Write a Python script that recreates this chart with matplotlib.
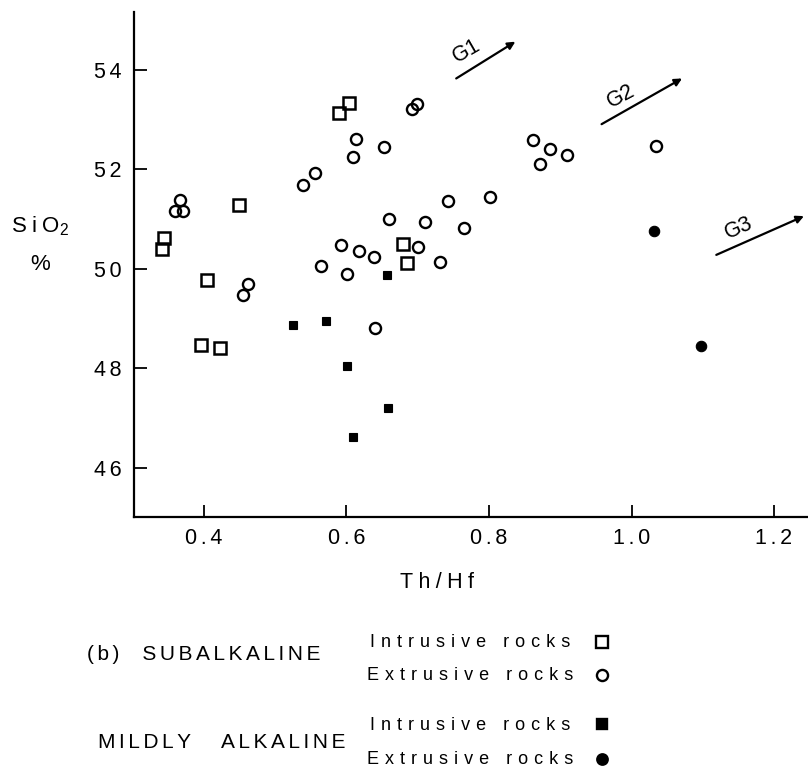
import matplotlib
matplotlib.use("Agg")
import matplotlib.pyplot as plt

plt.rcParams['font.family'] = ['Liberation Sans', 'DejaVu Sans']
plt.rcParams['mathtext.fontset'] = 'custom'
plt.rcParams['mathtext.rm'] = 'Liberation Sans'

# ---- data: Th/Hf ratio vs SiO2 (%) ----
# Subalkaline, intrusive rocks (open squares)
sub_intr_thhf = [0.603, 0.589, 0.449, 0.344, 0.341, 0.404, 0.396, 0.422, 0.679, 0.685]
sub_intr_sio2 = [53.34, 53.14, 51.28, 50.61, 50.39, 49.77, 48.47, 48.41, 50.50, 50.12]

# Subalkaline, extrusive rocks (open circles)
sub_extr_thhf = [0.366, 0.359, 0.371, 0.462, 0.455, 0.539, 0.556, 0.614, 0.609, 0.653,
                 0.659, 0.593, 0.617, 0.639, 0.564, 0.601, 0.640, 0.692, 0.699, 0.862,
                 0.886, 0.909, 0.872, 1.034, 0.742, 0.801, 0.710, 0.765, 0.700, 0.731]
sub_extr_sio2 = [51.38, 51.17, 51.16, 49.69, 49.47, 51.69, 51.93, 52.61, 52.24, 52.46,
                 51.01, 50.48, 50.36, 50.24, 50.06, 49.90, 48.80, 53.21, 53.32, 52.59,
                 52.42, 52.29, 52.10, 52.47, 51.36, 51.45, 50.95, 50.83, 50.44, 50.14]

# Mildly alkaline, intrusive rocks (filled squares)
alk_intr_thhf = [0.525, 0.571, 0.601, 0.657, 0.658, 0.609]
alk_intr_sio2 = [48.87, 48.94, 48.05, 49.88, 47.20, 46.62]

# Mildly alkaline, extrusive rocks (filled circles)
alk_extr_thhf = [1.032, 1.098]
alk_extr_sio2 = [50.76, 48.45]

x_ticks = [0.4, 0.6, 0.8, 1.0, 1.2]
y_ticks = [46, 48, 50, 52, 54]

# trend arrows: (label, start, end, label position, label rotation)
trends = [
    ("G1", (0.754, 53.83), (0.837, 54.57), (0.768, 54.38), 30),
    ("G2", (0.958, 52.91), (1.071, 53.83), (0.985, 53.47), 28),
    ("G3", (1.119, 50.28), (1.242, 51.06), (1.151, 50.82), 24),
]

# ---- letter-spaced text helper ----
SIXTH = '\u2006'
FOURTH = '\u2005'
THIRD = '\u2004'


def track(s, sp, word_gap=' '):
    words = s.split(' ')
    return (sp + word_gap + sp).join(sp.join(w) for w in words)


W, H = 808, 767
fig = plt.figure(figsize=(W / 100, H / 100), dpi=100)
ax = fig.add_axes([134 / W, 1 - 517 / H, 1 - 134 / W, (517 - 12) / H])

ax.plot(sub_intr_thhf, sub_intr_sio2, 's', ms=8.3, mfc='none', mec='black', mew=1.8)
ax.plot(sub_extr_thhf, sub_extr_sio2, 'o', ms=8.0, mfc='none', mec='black', mew=1.7)
ax.plot(alk_intr_thhf, alk_intr_sio2, 's', ms=6.0, mfc='black', mec='black', mew=0.8)
ax.plot(alk_extr_thhf, alk_extr_sio2, 'o', ms=7.5, mfc='black', mec='black', mew=0.8)

for label, start, end, lpos, rot in trends:
    ax.annotate("", xy=end, xytext=start,
                arrowprops=dict(arrowstyle='-|>', lw=1.6, color='black',
                                mutation_scale=11, shrinkA=0, shrinkB=0))
    ax.text(lpos[0], lpos[1], label, rotation=rot, ha='center', va='center',
            fontsize=15.5, rotation_mode='anchor')

ax.set_xlim(0.3018, 1.2477)
ax.set_ylim(45.006, 55.167)

for side in ('top', 'right'):
    ax.spines[side].set_visible(False)
for side in ('left', 'bottom'):
    ax.spines[side].set_linewidth(1.6)

ax.set_xticks(x_ticks)
ax.set_xticklabels([track(f"{v:.1f}", SIXTH) for v in x_ticks])
ax.set_yticks(y_ticks)
ax.set_yticklabels([track(f"{v:d}", SIXTH) for v in y_ticks])
ax.tick_params(axis='both', direction='in', length=9, width=1.3, labelsize=15.5)
ax.tick_params(axis='x', pad=8)
ax.tick_params(axis='y', pad=9)

ax.set_xlabel(track("Th/Hf", FOURTH), fontsize=15.5)
ax.xaxis.set_label_coords((437 - 134) / 674, (517 - 588.5) / 505)
ax.xaxis.label.set_va('baseline')

ax.set_ylabel(track("SiO", FOURTH) + "$_{2}$\n%", fontsize=16, rotation=0,
              ha='center', va='center', linespacing=2.0)
ax.yaxis.set_label_coords((40 - 134) / 674, (517 - 245) / 505)

# ---- key below the plot, in pixel coordinates ----
key = fig.add_axes([0, 0, 1, 1])
key.set_xlim(0, W)
key.set_ylim(H, 0)
key.axis('off')

key.text(87, 659.5, track("(b)", SIXTH) + "    " + track("SUBALKALINE", SIXTH),
         fontsize=15, ha='left', va='baseline')
key.text(98, 748.5, track("MILDLY ALKALINE", SIXTH, word_gap='    '),
         fontsize=15, ha='left', va='baseline')

items = [
    ("Intrusive rocks", 370, 647.0, 's', 'none', 8.0),
    ("Extrusive rocks", 367, 680.5, 'o', 'none', 8.0),
    ("Intrusive rocks", 370, 729.5, 's', 'black', 6.5),
    ("Extrusive rocks", 367, 764.0, 'o', 'black', 7.5),
]
for text, x0, base, mk, fc, ms in items:
    key.text(x0, base, track(text, THIRD), fontsize=13, ha='left', va='baseline')
    key.plot([602], [base - 5.5], mk, ms=ms, mfc=fc, mec='black', mew=1.7, clip_on=False)

fig.savefig("out.png", dpi=100)
